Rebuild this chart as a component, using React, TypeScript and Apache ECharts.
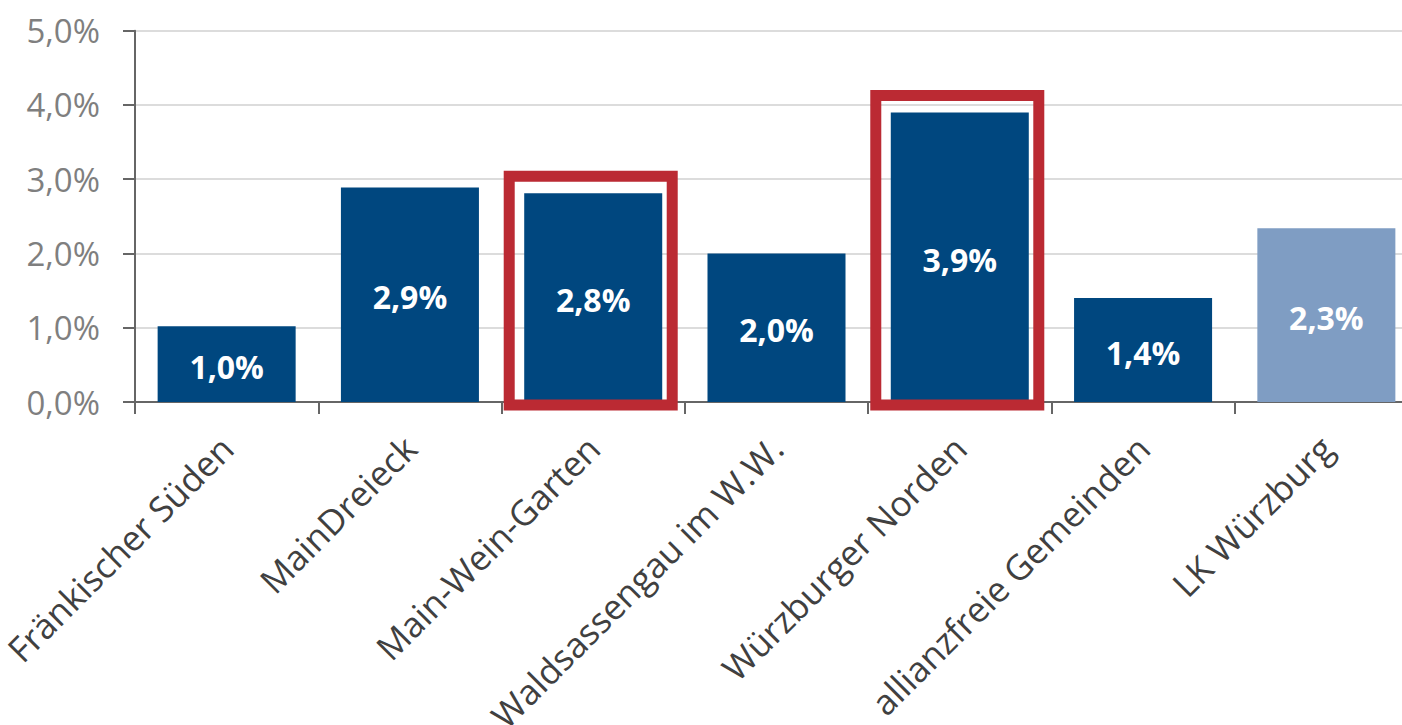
import React, { useEffect, useRef } from "react";
import * as echarts from "echarts";

const categories = [
  "Fränkischer Süden",
  "MainDreieck",
  "Main-Wein-Garten",
  "Waldsassengau im W.W.",
  "Würzburger Norden",
  "allianzfreie Gemeinden",
  "LK Würzburg",
];
const values = [1.02, 2.89, 2.81, 2.0, 3.9, 1.4, 2.34];
const highlighted = [false, false, true, false, true, false, false];
const isTotal = [false, false, false, false, false, false, true];
const yTicks = [0, 1, 2, 3, 4, 5];

const DARK = "#00477f";
const LIGHT = "#7f9dc3";
const RED = "#bb2a33";
const FONT = "Open Sans";

const fmt = (v: number) => v.toFixed(1).replace(".", ",") + "%";

export default function App() {
  const ref = useRef<HTMLDivElement>(null);
  useEffect(() => {
    if (!ref.current) return;
    const chart = echarts.init(ref.current, undefined, { renderer: "svg" });
    const boxData = categories
      .map((c, i) => (highlighted[i] ? [i, values[i]] : null))
      .filter((d) => d !== null);
    chart.setOption({
      animation: false,
      grid: {
        left: 135,
        top: 30.7,
        width: 1283,
        height: 371.3,
        containLabel: false,
        outerBoundsMode: "none",
      },
      xAxis: {
        type: "category",
        data: categories,
        axisLine: { show: true, lineStyle: { color: "#666666", width: 2 } },
        axisTick: { show: true, length: 12, lineStyle: { color: "#666666", width: 2 } },
        axisLabel: {
          rotate: 45,
          interval: 0,
          margin: 40,
          fontFamily: FONT,
          fontSize: 35,
          color: "#404040",
        },
      },
      yAxis: {
        type: "value",
        min: yTicks[0],
        max: yTicks[yTicks.length - 1],
        interval: 1,
        axisLine: { show: true, lineStyle: { color: "#666666", width: 2 } },
        axisTick: { show: true, length: 12, lineStyle: { color: "#666666", width: 2 } },
        splitLine: { show: true, lineStyle: { color: "#dcdcdc", width: 2 } },
        axisLabel: {
          margin: 35,
          fontFamily: FONT,
          fontSize: 33,
          color: "#7f7f7f",
          formatter: (v: number) => fmt(v),
        },
      },
      series: [
        {
          type: "bar",
          barWidth: "75.3%",
          data: values.map((v, i) => ({
            value: v,
            itemStyle: { color: isTotal[i] ? LIGHT : DARK },
          })),
          label: {
            show: true,
            position: "inside",
            offset: [0, 2],
            fontFamily: FONT,
            fontWeight: "bold",
            fontSize: 32,
            color: "#ffffff",
            formatter: (p: any) => fmt(p.value),
          },
          z: 2,
        },
        {
          type: "custom",
          data: boxData,
          encode: { x: 0, y: 1 },
          z: 5,
          renderItem: (params: any, api: any) => {
            const idx = api.value(0);
            const v = api.value(1);
            const top = api.coord([idx, v]);
            const base = api.coord([idx, 0]);
            const band = api.size([1, 0])[0];
            const bw = band * 0.753;
            return {
              type: "rect",
              shape: {
                x: top[0] - bw / 2 - 15,
                y: top[1] - 17,
                width: bw + 25,
                height: base[1] - top[1] + 20,
              },
              style: { fill: "none", stroke: RED, lineWidth: 11 },
            };
          },
        },
      ],
    });
    return () => chart.dispose();
  }, []);
  return (
    <div
      ref={ref}
      style={{ position: "fixed", left: 0, top: 0, width: 1402, height: 725, background: "#ffffff" }}
    />
  );
}
